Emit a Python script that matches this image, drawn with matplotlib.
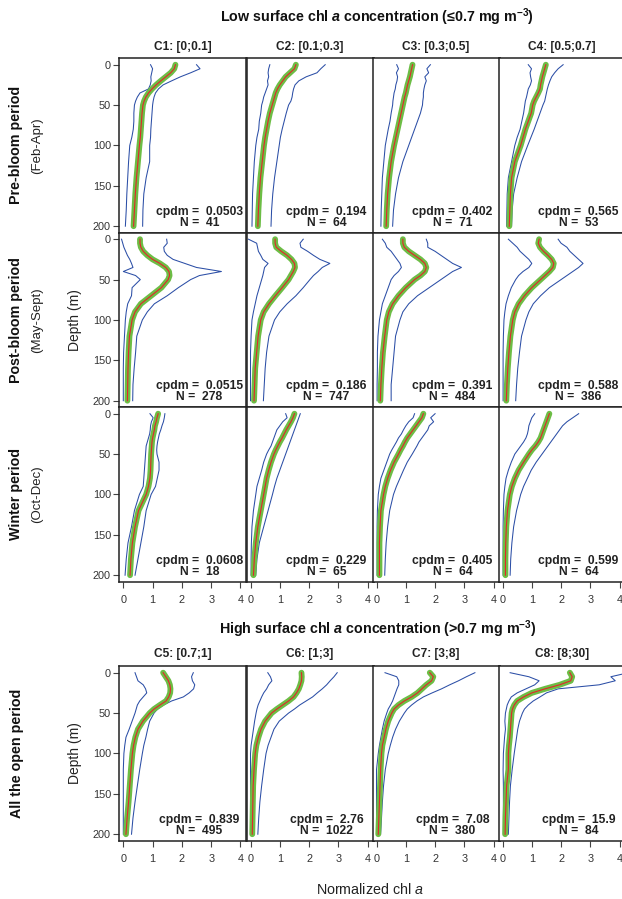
import matplotlib
matplotlib.use("Agg")
import matplotlib.pyplot as plt

plt.rcParams['font.family'] = ['Liberation Sans', 'DejaVu Sans']
plt.rcParams['mathtext.fontset'] = 'custom'
plt.rcParams['mathtext.rm'] = 'Liberation Sans'
plt.rcParams['mathtext.it'] = 'Liberation Sans:italic'
plt.rcParams['mathtext.bf'] = 'Liberation Sans:bold'
plt.rcParams['mathtext.bfit'] = 'Liberation Sans:bold:italic'

# depth levels (m) shared by every profile
DEPTH = [0, 5, 10, 15, 20, 25, 30, 35, 40, 45, 50, 60, 70, 80, 90, 100, 120, 140, 160, 180, 200]

# ---- pre-bloom (Feb-Apr) ----
c1_pre_med = [1.78, 1.74, 1.62, 1.45, 1.28, 1.12, 0.98, 0.86, 0.77, 0.71, 0.67, 0.64, 0.62, 0.60, 0.58, 0.55, 0.50, 0.45, 0.41, 0.38, 0.35]
c1_pre_lo = [0.93, 1.00, 0.97, 0.94, 0.95, 0.92, 0.86, 0.57, 0.48, 0.42, 0.38, 0.36, 0.36, 0.34, 0.29, 0.22, 0.18, 0.15, 0.12, 0.10, 0.07]
c1_pre_hi = [2.50, 2.62, 2.30, 1.95, 1.65, 1.36, 1.20, 1.10, 1.05, 1.02, 1.00, 0.98, 0.96, 0.94, 0.93, 0.90, 0.90, 0.78, 0.70, 0.67, 0.66]

c2_pre_med = [1.55, 1.50, 1.35, 1.20, 1.10, 1.00, 0.92, 0.86, 0.82, 0.78, 0.74, 0.66, 0.60, 0.55, 0.50, 0.46, 0.40, 0.34, 0.30, 0.27, 0.25]
c2_pre_lo = [0.66, 0.62, 0.60, 0.62, 0.58, 0.60, 0.55, 0.50, 0.45, 0.42, 0.38, 0.35, 0.30, 0.28, 0.22, 0.18, 0.13, 0.10, 0.07, 0.06, 0.05]
c2_pre_hi = [2.55, 2.40, 2.27, 1.90, 1.65, 1.52, 1.47, 1.44, 1.42, 1.38, 1.30, 1.22, 1.15, 1.08, 1.02, 0.98, 0.90, 0.82, 0.76, 0.72, 0.70]

c3_pre_med = [1.23, 1.20, 1.17, 1.14, 1.10, 1.06, 1.03, 1.00, 0.96, 0.93, 0.90, 0.84, 0.78, 0.72, 0.66, 0.60, 0.50, 0.43, 0.38, 0.35, 0.33]
c3_pre_lo = [0.69, 0.75, 0.68, 0.72, 0.70, 0.66, 0.64, 0.60, 0.58, 0.56, 0.55, 0.50, 0.46, 0.40, 0.35, 0.30, 0.25, 0.20, 0.18, 0.16, 0.15]
c3_pre_hi = [1.84, 1.72, 1.78, 1.65, 1.70, 1.65, 1.62, 1.60, 1.60, 1.58, 1.57, 1.50, 1.40, 1.30, 1.20, 1.10, 0.90, 0.75, 0.65, 0.58, 0.55]

c4_pre_med = [1.48, 1.44, 1.40, 1.36, 1.33, 1.30, 1.28, 1.22, 1.15, 1.08, 1.03, 0.98, 0.88, 0.78, 0.70, 0.62, 0.42, 0.31, 0.27, 0.25, 0.23]
c4_pre_lo = [0.88, 0.99, 0.94, 0.96, 0.99, 0.95, 0.88, 0.85, 0.82, 0.78, 0.76, 0.72, 0.66, 0.60, 0.50, 0.42, 0.31, 0.20, 0.16, 0.15, 0.14]
c4_pre_hi = [2.07, 1.90, 1.78, 1.68, 1.62, 1.57, 1.53, 1.50, 1.47, 1.44, 1.38, 1.28, 1.18, 1.08, 0.97, 0.86, 0.65, 0.50, 0.38, 0.33, 0.31]

# ---- post-bloom (May-Sept) ----
c1_post_med = [0.57, 0.57, 0.60, 0.68, 0.82, 1.00, 1.25, 1.45, 1.56, 1.58, 1.53, 1.30, 0.95, 0.60, 0.40, 0.30, 0.21, 0.18, 0.16, 0.15, 0.14]
c1_post_lo = [-0.06, -0.02, 0.02, 0.08, 0.14, 0.22, 0.28, 0.33, 0.00, 0.42, 0.58, 0.30, 0.28, 0.15, 0.10, 0.07, 0.04, 0.01, 0.00, 0.00, 0.00]
c1_post_hi = [1.48, 1.50, 1.38, 1.40, 1.50, 1.70, 2.10, 2.50, 3.35, 2.60, 2.30, 1.88, 1.50, 1.06, 0.82, 0.65, 0.46, 0.42, 0.37, 0.33, 0.32]

c2_post_med = [0.84, 0.84, 0.88, 1.05, 1.25, 1.40, 1.50, 1.52, 1.46, 1.38, 1.30, 1.08, 0.85, 0.63, 0.45, 0.35, 0.26, 0.21, 0.16, 0.14, 0.12]
c2_post_lo = [-0.07, 0.21, 0.24, 0.27, 0.35, 0.42, 0.60, 0.48, 0.45, 0.42, 0.38, 0.30, 0.22, 0.16, 0.10, 0.05, 0.02, 0.00, 0.00, 0.00, 0.00]
c2_post_hi = [1.80, 1.69, 1.72, 1.95, 2.15, 2.37, 2.71, 2.45, 2.31, 2.15, 2.03, 1.80, 1.55, 1.25, 1.00, 0.82, 0.63, 0.55, 0.50, 0.47, 0.44]

c3_post_med = [0.90, 0.90, 0.95, 1.10, 1.30, 1.50, 1.65, 1.70, 1.65, 1.50, 1.30, 1.00, 0.75, 0.55, 0.42, 0.35, 0.28, 0.22, 0.18, 0.15, 0.13]
c3_post_lo = [0.20, 0.30, 0.35, 0.50, 0.60, 0.70, 0.80, 0.85, 0.75, 0.60, 0.50, 0.40, 0.30, 0.20, 0.15, 0.10, 0.05, 0.03, 0.03, 0.02, 0.02]
c3_post_hi = [1.70, 1.75, 1.75, 2.00, 2.20, 2.40, 2.60, 2.90, 2.60, 2.40, 2.20, 1.80, 1.40, 1.10, 0.90, 0.80, 0.65, 0.60, 0.55, 0.50, 0.50]

c4_post_med = [1.25, 1.22, 1.28, 1.40, 1.55, 1.68, 1.75, 1.72, 1.60, 1.45, 1.30, 1.00, 0.75, 0.55, 0.42, 0.35, 0.27, 0.22, 0.18, 0.15, 0.13]
c4_post_lo = [0.20, 0.35, 0.50, 0.60, 0.75, 0.90, 1.00, 0.90, 0.70, 0.55, 0.45, 0.30, 0.20, 0.12, 0.08, 0.05, 0.03, 0.02, 0.02, 0.02, 0.02]
c4_post_hi = [1.90, 2.00, 2.20, 2.30, 2.45, 2.60, 2.75, 2.60, 2.40, 2.20, 2.00, 1.60, 1.30, 1.05, 0.90, 0.80, 0.65, 0.58, 0.52, 0.48, 0.45]

# ---- winter (Oct-Dec) ----
c1_win_med = [1.19, 1.15, 1.12, 1.08, 1.06, 1.03, 1.00, 0.98, 0.97, 0.96, 0.95, 0.94, 0.93, 0.91, 0.86, 0.78, 0.52, 0.40, 0.31, 0.26, 0.23]
c1_win_lo = [0.91, 1.02, 0.96, 0.93, 0.92, 0.90, 0.86, 0.82, 0.78, 0.77, 0.76, 0.74, 0.72, 0.70, 0.68, 0.55, 0.38, 0.28, 0.16, 0.10, 0.06]
c1_win_hi = [1.42, 1.40, 1.37, 1.32, 1.28, 1.23, 1.20, 1.17, 1.15, 1.14, 1.15, 1.22, 1.22, 1.16, 1.10, 0.95, 0.78, 0.70, 0.60, 0.50, 0.40]

c2_win_med = [1.50, 1.45, 1.38, 1.30, 1.22, 1.15, 1.08, 1.00, 0.93, 0.86, 0.80, 0.70, 0.62, 0.55, 0.50, 0.45, 0.35, 0.25, 0.18, 0.13, 0.10]
c2_win_lo = [1.20, 1.25, 1.10, 1.00, 0.90, 0.85, 0.80, 0.75, 0.70, 0.62, 0.55, 0.45, 0.38, 0.30, 0.22, 0.18, 0.10, 0.05, 0.03, 0.02, 0.02]
c2_win_hi = [1.70, 1.65, 1.60, 1.55, 1.50, 1.45, 1.40, 1.35, 1.30, 1.25, 1.20, 1.10, 1.00, 0.90, 0.82, 0.75, 0.60, 0.45, 0.30, 0.22, 0.18]

c3_win_med = [1.60, 1.55, 1.45, 1.35, 1.25, 1.15, 1.05, 0.97, 0.90, 0.82, 0.75, 0.60, 0.48, 0.38, 0.30, 0.24, 0.15, 0.12, 0.10, 0.10, 0.10]
c3_win_lo = [1.30, 1.25, 1.10, 1.00, 0.92, 0.85, 0.75, 0.68, 0.60, 0.52, 0.45, 0.35, 0.25, 0.15, 0.10, 0.06, 0.03, 0.02, 0.02, 0.02, 0.02]
c3_win_hi = [2.00, 1.85, 1.95, 1.80, 1.75, 1.65, 1.55, 1.45, 1.38, 1.30, 1.22, 1.05, 0.92, 0.80, 0.68, 0.58, 0.45, 0.38, 0.33, 0.30, 0.28]

c4_win_med = [1.60, 1.55, 1.50, 1.45, 1.40, 1.35, 1.30, 1.22, 1.12, 1.00, 0.90, 0.72, 0.55, 0.42, 0.32, 0.25, 0.17, 0.13, 0.11, 0.10, 0.10]
c4_win_lo = [1.10, 1.00, 0.95, 0.90, 0.88, 0.85, 0.80, 0.72, 0.62, 0.52, 0.42, 0.30, 0.20, 0.12, 0.08, 0.05, 0.03, 0.02, 0.02, 0.02, 0.02]
c4_win_hi = [2.60, 2.40, 2.20, 2.05, 1.95, 1.85, 1.75, 1.65, 1.55, 1.45, 1.35, 1.15, 0.98, 0.85, 0.72, 0.62, 0.48, 0.38, 0.32, 0.28, 0.26]

# ---- high surface chl a, whole open period ----
c5_med = [1.36, 1.45, 1.54, 1.59, 1.61, 1.60, 1.55, 1.46, 1.25, 1.05, 0.90, 0.67, 0.50, 0.41, 0.35, 0.31, 0.26, 0.22, 0.18, 0.13, 0.09]
c5_lo = [0.40, 0.45, 0.50, 0.68, 0.76, 0.80, 0.68, 0.56, 0.48, 0.44, 0.40, 0.30, 0.20, 0.09, 0.05, 0.02, 0.00, 0.00, 0.00, 0.00, 0.00]
c5_hi = [2.39, 2.33, 2.36, 2.44, 2.40, 2.25, 2.05, 1.65, 1.38, 1.17, 1.05, 0.90, 0.83, 0.77, 0.70, 0.65, 0.56, 0.48, 0.40, 0.33, 0.28]

c6_med = [1.74, 1.75, 1.74, 1.70, 1.65, 1.57, 1.47, 1.30, 1.10, 0.90, 0.72, 0.50, 0.36, 0.27, 0.20, 0.16, 0.12, 0.09, 0.08, 0.07, 0.06]
c6_lo = [0.59, 0.68, 0.73, 0.62, 0.55, 0.45, 0.38, 0.32, 0.26, 0.22, 0.19, 0.14, 0.10, 0.06, 0.02, 0.00, 0.00, 0.00, 0.00, 0.00, 0.00]
c6_hi = [2.96, 2.85, 2.72, 2.60, 2.45, 2.28, 2.12, 1.90, 1.68, 1.50, 1.30, 0.98, 0.80, 0.70, 0.60, 0.53, 0.45, 0.38, 0.32, 0.28, 0.25]

c7_med = [1.82, 1.94, 1.88, 1.70, 1.55, 1.40, 1.20, 0.95, 0.75, 0.60, 0.52, 0.40, 0.32, 0.26, 0.20, 0.17, 0.14, 0.12, 0.10, 0.08, 0.06]
c7_lo = [0.29, 0.69, 0.76, 0.76, 0.70, 0.65, 0.60, 0.55, 0.48, 0.40, 0.35, 0.26, 0.20, 0.15, 0.10, 0.06, 0.00, 0.00, 0.00, 0.00, 0.00]
c7_hi = [3.36, 3.07, 2.80, 2.50, 2.22, 1.90, 1.60, 1.38, 1.20, 1.05, 0.95, 0.78, 0.65, 0.55, 0.47, 0.40, 0.30, 0.24, 0.20, 0.17, 0.14]

c8_med = [2.30, 2.38, 2.33, 1.95, 1.45, 1.00, 0.72, 0.50, 0.40, 0.34, 0.31, 0.29, 0.27, 0.25, 0.22, 0.20, 0.20, 0.14, 0.12, 0.10, 0.09]
c8_lo = [0.26, 0.90, 1.25, 1.10, 0.80, 0.50, 0.30, 0.22, 0.16, 0.13, 0.10, 0.08, 0.10, 0.07, 0.05, 0.03, 0.02, 0.03, 0.03, 0.03, 0.03]
c8_hi = [4.30, 3.70, 3.85, 3.30, 1.90, 1.50, 1.28, 1.05, 0.88, 0.75, 0.68, 0.58, 0.52, 0.48, 0.44, 0.40, 0.33, 0.27, 0.24, 0.22, 0.20]

CLASS_LOW = ["C1: [0;0.1]", "C2: [0.1;0.3]", "C3: [0.3;0.5]", "C4: [0.5;0.7]"]
CLASS_HIGH = ["C5: [0.7;1]", "C6: [1;3]", "C7: [3;8]", "C8: [8;30]"]
PERIODS = [("Pre-bloom period", "(Feb-Apr)"), ("Post-bloom period", "(May-Sept)"),
           ("Winter period", "(Oct-Dec)")]

cpdm_low = [["0.0503", "0.194", "0.402", "0.565"],
            ["0.0515", "0.186", "0.391", "0.588"],
            ["0.0608", "0.229", "0.405", "0.599"]]
n_low = [[41, 64, 71, 53], [278, 747, 484, 386], [18, 65, 64, 64]]
cpdm_high = ["0.839", "2.76", "7.08", "15.9"]
n_high = [495, 1022, 380, 84]

low_rows = [
    [(c1_pre_med, c1_pre_lo, c1_pre_hi), (c2_pre_med, c2_pre_lo, c2_pre_hi),
     (c3_pre_med, c3_pre_lo, c3_pre_hi), (c4_pre_med, c4_pre_lo, c4_pre_hi)],
    [(c1_post_med, c1_post_lo, c1_post_hi), (c2_post_med, c2_post_lo, c2_post_hi),
     (c3_post_med, c3_post_lo, c3_post_hi), (c4_post_med, c4_post_lo, c4_post_hi)],
    [(c1_win_med, c1_win_lo, c1_win_hi), (c2_win_med, c2_win_lo, c2_win_hi),
     (c3_win_med, c3_win_lo, c3_win_hi), (c4_win_med, c4_win_lo, c4_win_hi)],
]
high_row = [(c5_med, c5_lo, c5_hi), (c6_med, c6_lo, c6_hi),
            (c7_med, c7_lo, c7_hi), (c8_med, c8_lo, c8_hi)]

W, H = 622, 899
GREEN = "#6cbd45"
BLUE = "#2b4ea6"
RED = "#e3262b"
TICK = "#333333"

fig = plt.figure(figsize=(W / 100, H / 100), dpi=100)


def fx(px):
    return px / W


def fy(py):
    return 1 - py / H


COL_X = [119.3, 246.5, 372.5, 498.5]
COL_W = 127
ROW_H = 174.5


def panel(left, top, prof, cpdm, n, first_col, xticks):
    ax = fig.add_axes([fx(left), fy(top + ROW_H), COL_W / W, ROW_H / H])
    med, lo, hi = prof
    ax.plot(lo, DEPTH, color=BLUE, lw=0.75)
    ax.plot(hi, DEPTH, color=BLUE, lw=0.75)
    ax.plot(med, DEPTH, color=GREEN, lw=4.2, solid_capstyle="round", solid_joinstyle="round")
    ax.plot(med, DEPTH, color=RED, lw=0.8)
    ax.set_xlim(-0.137, 4.2)
    ax.set_ylim(207.8, -8.3)
    for s in ax.spines.values():
        s.set_linewidth(1.1)
        s.set_color("#222222")
    if first_col:
        ax.set_yticks([0, 50, 100, 150, 200])
        ax.tick_params(axis="y", direction="out", length=4.5, width=0.8,
                       labelsize=7.8, labelcolor=TICK, color="#444444", pad=1.5)
    else:
        ax.set_yticks([])
    if xticks:
        ax.set_xticks([0, 1, 2, 3, 4])
        ax.tick_params(axis="x", direction="out", length=4.5, width=0.8,
                       labelsize=7.8, labelcolor=TICK, color="#444444", pad=5)
    else:
        ax.set_xticks([])
    ax.text(0.63, 0.118, f"cpdm =  {cpdm}", transform=ax.transAxes, ha="center",
            va="center", fontsize=8.7, fontweight="bold", color="#222222")
    ax.text(0.63, 0.055, f"N =  {n}", transform=ax.transAxes, ha="center",
            va="center", fontsize=8.7, fontweight="bold", color="#222222")
    return ax


# low surface chl a group
ROW_TOP = [58, 232.5, 407]
for r in range(3):
    for c in range(4):
        panel(COL_X[c], ROW_TOP[r], low_rows[r][c], cpdm_low[r][c], n_low[r][c],
              c == 0, r == 2)
    yc = ROW_TOP[r] + ROW_H / 2
    fig.text(fx(16), fy(yc), PERIODS[r][0], rotation=90, ha="center", va="center",
             fontsize=10.3, fontweight="bold", color="#111111")
    fig.text(fx(37), fy(yc), PERIODS[r][1], rotation=90, ha="center", va="center",
             fontsize=9.5, color="#222222")

# high surface chl a group
BOT_TOP = 666
for c in range(4):
    panel(COL_X[c], BOT_TOP, high_row[c], cpdm_high[c], n_high[c], c == 0, True)

for c in range(4):
    xc = COL_X[c] + COL_W / 2
    fig.text(fx(xc), fy(47), CLASS_LOW[c], ha="center", va="center",
             fontsize=8.6, fontweight="bold", color="#222222")
    fig.text(fx(xc), fy(654), CLASS_HIGH[c], ha="center", va="center",
             fontsize=8.6, fontweight="bold", color="#222222")

fig.text(fx(377), fy(17), r"Low surface chl $\mathbfit{a}$ concentration (≤0.7 mg m$^{\mathbf{-3}}$)",
         ha="center", va="center", fontsize=10.3, fontweight="bold", color="#111111")
fig.text(fx(378), fy(629), r"High surface chl $\mathbfit{a}$ concentration (>0.7 mg m$^{\mathbf{-3}}$)",
         ha="center", va="center", fontsize=10.3, fontweight="bold", color="#111111")

fig.text(fx(17), fy(BOT_TOP + ROW_H / 2), "All the open period", rotation=90,
         ha="center", va="center", fontsize=10.3, fontweight="bold", color="#111111")
fig.text(fx(75), fy(ROW_TOP[1] + ROW_H / 2), "Depth (m)", rotation=90,
         ha="center", va="center", fontsize=10, color="#222222")
fig.text(fx(75), fy(BOT_TOP + ROW_H / 2), "Depth (m)", rotation=90,
         ha="center", va="center", fontsize=10, color="#222222")
fig.text(fx(370), fy(890), r"Normalized chl $\mathit{a}$", ha="center", va="center",
         fontsize=10.3, color="#222222")

fig.savefig("out.png", dpi=100)
